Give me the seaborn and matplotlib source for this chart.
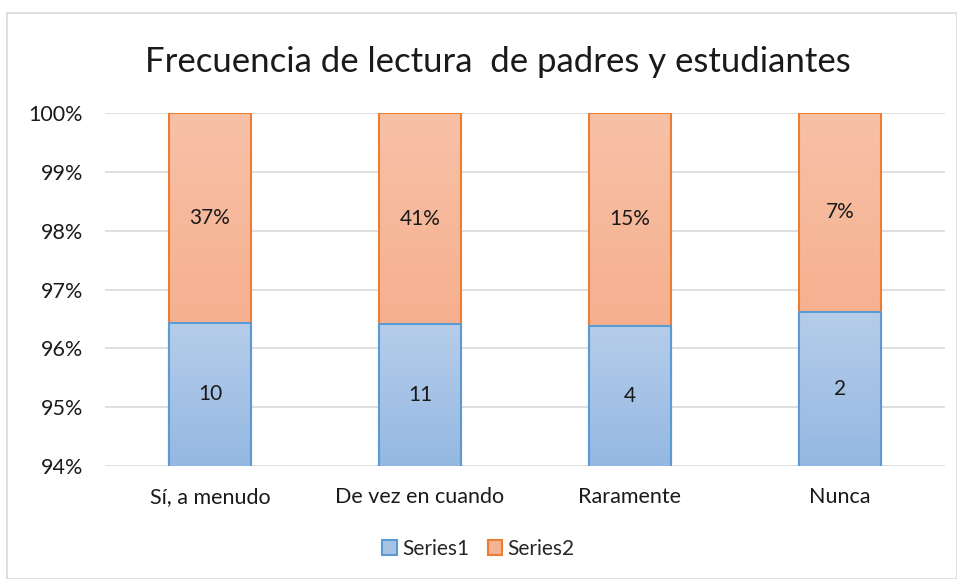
import matplotlib
matplotlib.use("Agg")
import matplotlib.pyplot as plt
import numpy as np
import pandas as pd
import seaborn as sns
from matplotlib.colors import LinearSegmentedColormap
from matplotlib.patches import Patch

categories = ["Sí, a menudo", "De vez en cuando", "Raramente", "Nunca"]
series1 = [10, 11, 4, 2]
series2 = [0.37, 0.41, 0.15, 0.07]
title = "Frecuencia de lectura  de padres y estudiantes"

df = pd.DataFrame({"cat": categories, "s1": series1, "s2": series2})
df["total"] = df["s1"] + df["s2"]
df["p1"] = df["s1"] / df["total"]
df["p_all"] = 1.0

sns.set_theme(style="white")
plt.rcParams["font.family"] = ["Lato", "DejaVu Sans"]

fig = plt.figure(figsize=(9.57, 5.79), dpi=100)
ax = fig.add_axes([105 / 957, 1 - 466 / 579, 840 / 957, (466 - 113) / 579])

bw = 0.395
sns.barplot(data=df, x="cat", y="p_all", color="#f6b393", width=bw, ax=ax,
            edgecolor="#ed7d31", linewidth=1.5, zorder=2)
n = len(ax.patches)
sns.barplot(data=df, x="cat", y="p1", color="#a6c3e6", width=bw, ax=ax,
            edgecolor="#5b9bd5", linewidth=1.5, zorder=3)

ylo, yhi = 0.94, 1.0
ax.set_ylim(ylo, yhi)

# vertical gradient fill, light on top like the original
grads = {
    "s2": LinearSegmentedColormap.from_list("s2", ["#f4a47f", "#f8c1a7"]),
    "s1": LinearSegmentedColormap.from_list("s1", ["#94b8e2", "#b6cdea"]),
}
grad = np.linspace(0, 1, 256).reshape(-1, 1)
for i, p in enumerate(ax.patches):
    cmap = grads["s2"] if i < n else grads["s1"]
    x0 = p.get_x()
    w = p.get_width()
    top = p.get_y() + p.get_height()
    im = ax.imshow(grad, cmap=cmap, origin="lower", aspect="auto",
                   extent=[x0, x0 + w, ylo, min(top, yhi)],
                   zorder=p.get_zorder() + 0.1)
    im.set_clip_path(p)
    p.set_facecolor("none")
    p.set_zorder(p.get_zorder() + 0.2)

ax.set_xlim(-0.5, len(categories) - 0.5)

for i, row in df.iterrows():
    ax.text(i, (ylo + row["p1"]) / 2, f"{row['s1']:g}", ha="center", va="center",
            fontsize=15, color="#1a1a1a", zorder=6)
    ax.text(i, (row["p1"] + 1.0) / 2, f"{row['s2'] * 100:.0f}%", ha="center",
            va="center", fontsize=15, color="#1a1a1a", zorder=6)

ax.set_yticks(np.arange(0.94, 1.0001, 0.01))
ax.set_yticklabels([f"{v:.0f}%" for v in np.arange(94, 101, 1)])
ax.yaxis.grid(True, color="#d9d9d9", linewidth=1.2, zorder=0)
ax.set_axisbelow(True)
for s in ax.spines.values():
    s.set_visible(False)
ax.tick_params(axis="both", length=0, labelsize=15.5, colors="#1a1a1a")
ax.tick_params(axis="y", pad=16)
ax.tick_params(axis="x", pad=15)
ax.set_xlabel("")
ax.set_ylabel("")

fig.text(498 / 957, 1 - 62 / 579, title, ha="center", va="center", fontsize=25, color="#1a1a1a")

handles = [Patch(facecolor="#a6c3e6", edgecolor="#5b9bd5", linewidth=1.5, label="Series1"),
           Patch(facecolor="#f6b393", edgecolor="#ed7d31", linewidth=1.5, label="Series2")]
fig.legend(handles=handles, loc="center", bbox_to_anchor=(0.5, 1 - 549 / 579), ncol=2,
           frameon=False, fontsize=15, handlelength=0.7, handleheight=0.7,
           handletextpad=0.25, columnspacing=0.9)

border = plt.Rectangle((7 / 957, 0), 1 - 7 / 957, 1 - 13 / 579, transform=fig.transFigure,
                       fill=False, edgecolor="#d9d9d9", linewidth=1.2)
fig.patches.append(border)

fig.savefig("out.png", dpi=100)
